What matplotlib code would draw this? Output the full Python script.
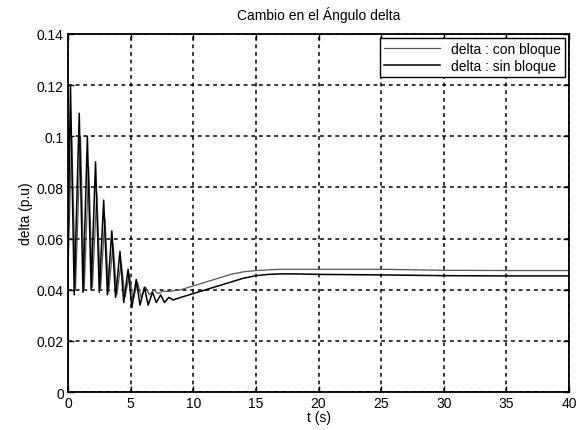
import matplotlib
matplotlib.use("Agg")
import matplotlib.pyplot as plt

plt.rcParams['font.family'] = ['Liberation Sans', 'DejaVu Sans']

# Time (s) and rotor angle delta (p.u.) with the block
t_con = [0, 0.02, 0.3, 0.6, 1.0, 1.3, 1.65, 1.95, 2.3, 2.6, 2.95, 3.25, 3.6, 3.9,
         4.25, 4.55, 4.9, 5.2, 5.55, 5.85, 6.2, 6.5, 6.85, 7.2, 7.6, 8, 9, 10, 11,
         12, 13, 14, 15, 16, 17, 18, 20, 25, 30, 35, 40]
d_con = [0, 0.05, 0.1, 0.04, 0.1, 0.04, 0.088, 0.041, 0.078, 0.04, 0.068, 0.039,
         0.058, 0.038, 0.051, 0.037, 0.046, 0.036, 0.043, 0.037, 0.041, 0.038,
         0.040, 0.0385, 0.0395, 0.0393, 0.040, 0.0415, 0.043, 0.0445, 0.046,
         0.047, 0.0475, 0.0478, 0.048, 0.048, 0.048, 0.048, 0.0476, 0.0475, 0.0475]

# Time (s) and rotor angle delta (p.u.) without the block
t_sin = [0, 0.02, 0.2, 0.5, 0.9, 1.2, 1.55, 1.85, 2.2, 2.5, 2.85, 3.15, 3.5, 3.8,
         4.15, 4.45, 4.8, 5.1, 5.45, 5.75, 6.1, 6.4, 6.75, 7.05, 7.4, 7.7, 8.05,
         8.4, 9, 10, 11, 12, 13, 14, 15, 16, 17, 18, 20, 25, 30, 35, 40]
d_sin = [0, 0.06, 0.12, 0.038, 0.109, 0.039, 0.1, 0.04, 0.09, 0.039, 0.075, 0.038,
         0.063, 0.037, 0.055, 0.035, 0.048, 0.033, 0.044, 0.034, 0.041, 0.034,
         0.039, 0.035, 0.038, 0.035, 0.037, 0.036, 0.037, 0.0385, 0.040, 0.0415,
         0.043, 0.0445, 0.0455, 0.046, 0.0462, 0.0462, 0.046, 0.0458, 0.0455,
         0.0454, 0.0454]

x_ticks = [0, 5, 10, 15, 20, 25, 30, 35, 40]
y_ticks = [0, 0.02, 0.04, 0.06, 0.08, 0.1, 0.12, 0.14]
y_labels = ['0', '0.02', '0.04', '0.06', '0.08', '0.1', '0.12', '0.14']

fig = plt.figure(figsize=(5.76, 4.31), dpi=100)
ax = fig.add_axes([0.118, 0.088, 0.870, 0.831])

ax.plot(t_con, d_con, color='#555555', lw=0.9, label='delta : con bloque')
ax.plot(t_sin, d_sin, color='black', lw=1.1, label='delta : sin bloque')

ax.set_xlim(0, 40)
ax.set_ylim(0, 0.14)
ax.set_xticks(x_ticks)
ax.set_yticks(y_ticks)
ax.set_yticklabels(y_labels)
ax.tick_params(direction='in', top=True, right=True, labelsize=10, length=4,
               width=1, pad=3)
ax.grid(True, color='black', linestyle=(0, (2.5, 2.5)), linewidth=1.1)
for s in ax.spines.values():
    s.set_linewidth(1.3)

ax.set_title('Cambio en el Ángulo delta', fontsize=10, pad=11)
ax.set_xlabel('t (s)', fontsize=10, labelpad=0)
ax.set_ylabel('delta (p.u)', fontsize=10, labelpad=3)

leg = ax.legend(loc='upper right', fontsize=10, frameon=True, fancybox=False,
                borderaxespad=0.3, handlelength=4.0, borderpad=0.3,
                labelspacing=0.2)
leg.get_frame().set_edgecolor('black')
leg.get_frame().set_linewidth(1.0)
leg.get_frame().set_alpha(1)

fig.savefig('out.png', dpi=100)
